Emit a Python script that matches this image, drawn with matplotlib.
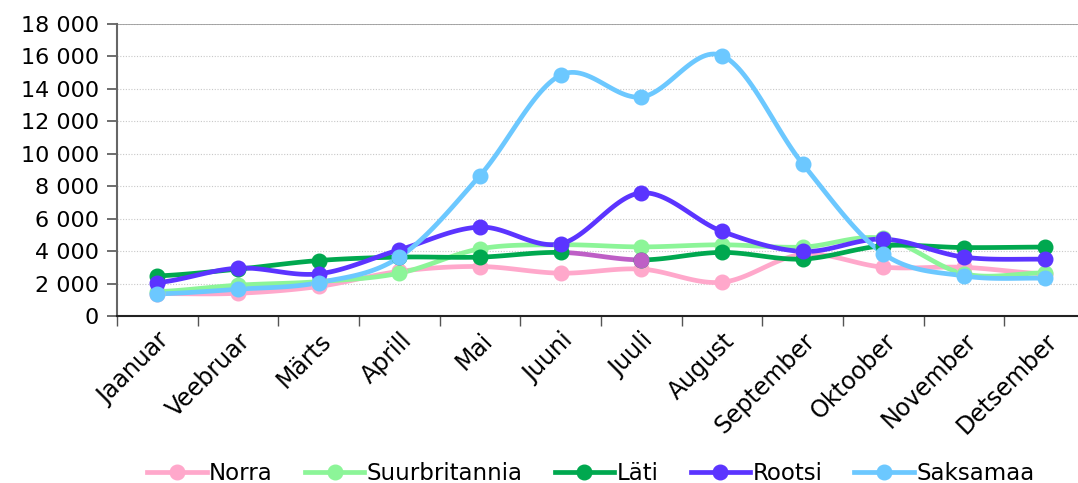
import numpy as np
from matplotlib import pyplot as plt
from matplotlib.ticker import FuncFormatter, MultipleLocator

kuud = ["Jaanuar", "Veebruar", "Märts", "Aprill", "Mai", "Juuni", "Juuli",
        "August", "September", "Oktoober", "November", "Detsember"]

norra = [1380, 1400, 1820, 2750, 3050, 2640, 2890, 2080, 3800, 3010, 3000, 2600]
suurbritannia = [1500, 1900, 2120, 2640, 4140, 4390, 4260, 4390, 4250, 4780, 2600, 2660]
lati = [2470, 2890, 3420, 3630, 3630, 3920, 3460, 3920, 3510, 4330, 4220, 4250]
rootsi = [2060, 2950, 2600, 4080, 5480, 4450, 7590, 5220, 3980, 4740, 3630, 3500]
saksamaa = [1360, 1650, 2060, 3630, 8660, 14850, 13500, 16050, 9380, 3840, 2470, 2330]

seeriad = [
    ("Norra", norra, "#FFA8CB"),
    ("Suurbritannia", suurbritannia, "#8CF598"),
    ("Läti", lati, "#00A84F"),
    ("Rootsi", rootsi, "#5B34FF"),
    ("Saksamaa", saksamaa, "#6CC8FF"),
]

# Läti segment Juuni -> Juuli drawn in another colour in the original
eri_lõik = (5, 6)
eri_värv = "#BE5FC6"


def silu(y, n=30):
    # Catmull-Rom spline through the points (like Excel smoothed lines)
    y = np.asarray(y, dtype=float)
    x = np.arange(len(y), dtype=float)
    xs, ys = [], []
    for i in range(len(y) - 1):
        p0 = y[i - 1] if i > 0 else y[i]
        p1, p2 = y[i], y[i + 1]
        p3 = y[i + 2] if i + 2 < len(y) else y[i + 1]
        t = np.linspace(0, 1, n)
        c1 = p1 + (p2 - p0) / 6
        c2 = p2 - (p3 - p1) / 6
        seg = (1 - t) ** 3 * p1 + 3 * (1 - t) ** 2 * t * c1 + 3 * (1 - t) * t ** 2 * c2 + t ** 3 * p2
        xs.append(x[i] + t)
        ys.append(seg)
    return xs, ys


fig = plt.figure(figsize=(10.78, 4.83), dpi=100)
ax = fig.add_axes([117 / 1078, (483 - 316) / 483, (1085 - 117) / 1078, (316 - 24) / 483])

lw = 3.4
ms = 10.5
for nimi, y, varv in seeriad:
    xs, ys = silu(y)
    for i in range(len(xs)):
        c = varv
        if nimi == "Läti" and (i, i + 1) == eri_lõik:
            c = eri_värv
        ax.plot(xs[i], ys[i], color=c, lw=lw, solid_capstyle="round", zorder=3)
    ax.plot(range(len(y)), y, ls="none", marker="o", ms=ms, color=varv, zorder=4)
    ax.plot([], [], color=varv, lw=lw, marker="o", ms=ms, label=nimi)
    if nimi == "Läti":
        ax.plot([eri_lõik[1]], [y[eri_lõik[1]]], ls="none", marker="o", ms=ms, color=eri_värv, zorder=4)

ax.set_xlim(-0.5, 11.5)
ax.set_ylim(0, 18000)
ax.yaxis.set_major_locator(MultipleLocator(2000))
ax.yaxis.set_major_formatter(FuncFormatter(lambda v, p: f"{int(v):,}".replace(",", " ")))
ax.grid(axis="y", ls=(0, (1, 1.5)), color="#C8C8C8", lw=0.8)
ax.axhline(18000, color="#999999", lw=1.2)

ax.set_xticks(np.arange(-0.5, 12, 1))
ax.set_xticklabels([])
ax.set_xticks(range(12), minor=True)
ax.set_xticklabels(kuud, minor=True, rotation=45, ha="right", rotation_mode="anchor", fontsize=17)
ax.tick_params(axis="x", which="minor", length=0, pad=9)
ax.tick_params(axis="x", which="major", length=7, width=1.0, color="#555555")
ax.tick_params(axis="y", length=7, width=1.2, color="#555555", labelsize=16, pad=6)

for s in ["top", "right"]:
    ax.spines[s].set_visible(False)
ax.spines["left"].set_color("#666666")
ax.spines["left"].set_linewidth(1.5)
ax.spines["bottom"].set_color("#222222")
ax.spines["bottom"].set_linewidth(1.5)

fig.legend(loc="lower center", ncol=5, bbox_to_anchor=(0.548, -0.047), frameon=False,
           fontsize=16.5, handlelength=2.6, handletextpad=0.1, columnspacing=1.4)

fig.savefig("out.png", dpi=100)
